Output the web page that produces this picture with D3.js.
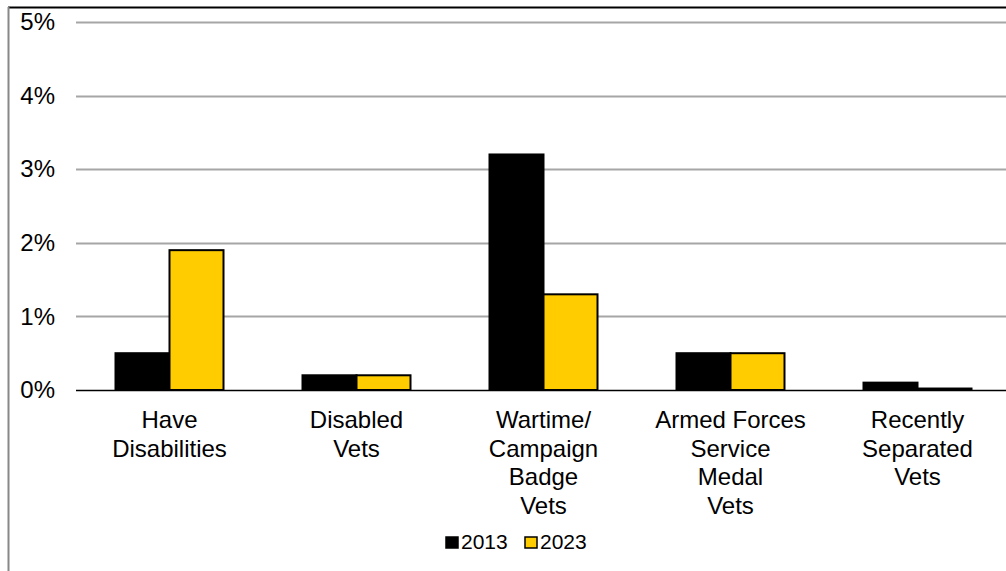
<!DOCTYPE html>
<html><head><meta charset="utf-8">
<script src="https://cdn.jsdelivr.net/npm/d3@7"></script>
<style>body{margin:0;background:#fff}svg{display:block}text{font-family:"Liberation Sans",Arial,sans-serif}</style>
</head><body>
<svg id="c" width="1006" height="571"></svg>
<script>
const categories = [["Have","Disabilities"],["Disabled","Vets"],["Wartime/","Campaign","Badge","Vets"],["Armed Forces","Service","Medal","Vets"],["Recently","Separated","Vets"]];
const series = ["2013","2023"];
const values2013 = [0.5, 0.2, 3.2, 0.5, 0.1];
const values2023 = [1.9, 0.2, 1.3, 0.5, 0.02];
const yTicks = [0,1,2,3,4,5];
const colors = ["#000000","#FFCC00"];

const svg = d3.select("#c");
const W=1006,H=571;
// border
svg.append("line").attr("x1",8).attr("x2",W).attr("y1",7.5).attr("y2",7.5).attr("stroke","#000").attr("stroke-width",2);
svg.append("line").attr("x1",8.5).attr("x2",8.5).attr("y1",7).attr("y2",H).attr("stroke","#888").attr("stroke-width",2);

const x = d3.scaleBand().domain(d3.range(categories.length)).range([76,1011]);
const y = d3.scaleLinear().domain([0,5]).range([390,22]);
const inner = d3.scaleBand().domain(series).range([0,108]);

// gridlines
svg.append("g").selectAll("line").data(yTicks.filter(t=>t>0)).join("line")
 .attr("x1",76).attr("x2",W).attr("y1",d=>Math.round(y(d))+0.5).attr("y2",d=>Math.round(y(d))+0.5)
 .attr("stroke","#a6a6a6").attr("stroke-width",2);
const ya = svg.append("g").attr("transform","translate(76,0)").call(d3.axisLeft(y).tickValues(yTicks).tickFormat(d=>d+"%").tickSize(0).tickPadding(21));
ya.select(".domain").remove();
ya.selectAll("text").attr("font-size",24).attr("fill","#000").attr("font-family","Liberation Sans, Arial, sans-serif");

const data = categories.map((c,i)=>({i, vals:[values2013[i],values2023[i]]}));
const g = svg.append("g");
data.forEach(d=>{
  const cx = x(d.i)+x.bandwidth()/2 - 54;
  g.selectAll(null).data(d.vals.map((v,k)=>({v,k}))).join("rect")
   .attr("x",e=>cx+inner(series[e.k]))
   .attr("width",inner.bandwidth())
   .attr("y",e=>y(e.v)).attr("height",e=>y(0)-y(e.v))
   .attr("fill",e=>colors[e.k]).attr("stroke","#000").attr("stroke-width",2);
});
// zero line
svg.append("line").attr("x1",76).attr("x2",W).attr("y1",390.5).attr("y2",390.5).attr("stroke","#000").attr("stroke-width",1.5);

// category labels
categories.forEach((lines,i)=>{
  const t = svg.append("text").attr("x",x(i)+x.bandwidth()/2).attr("y",428).attr("text-anchor","middle").attr("font-size",24).attr("fill","#000");
  lines.forEach((l,j)=>t.append("tspan").attr("x",x(i)+x.bandwidth()/2).attr("dy",j?28.5:0).text(l));
});

// legend
const lg = svg.append("g");
const items = [{s:"2013",x:446},{s:"2023",x:525}];
items.forEach((it,k)=>{
  lg.append("rect").attr("x",it.x).attr("y",537).attr("width",12).attr("height",11).attr("fill",colors[k]).attr("stroke","#000").attr("stroke-width",1.5);
  lg.append("text").attr("x",it.x+15).attr("y",549).attr("font-size",21).attr("fill","#000").text(it.s);
});
</script>
</body></html>
